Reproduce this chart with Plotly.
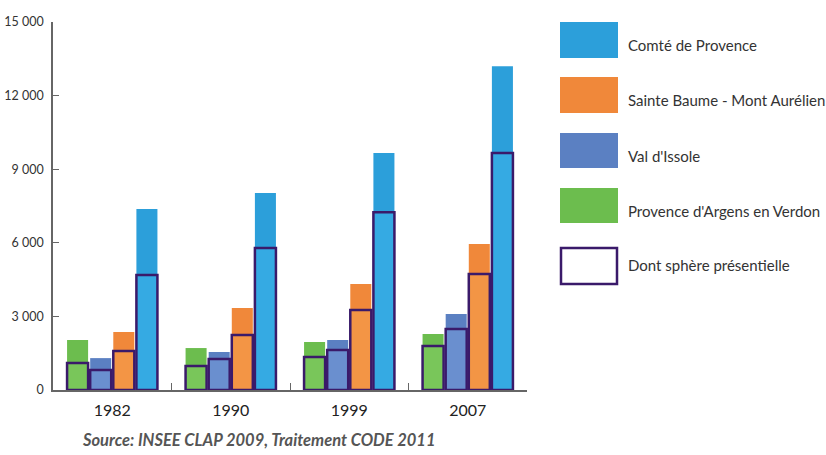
import plotly.graph_objects as go

years = ["1982", "1990", "1999", "2007"]
series_names = ["Provence d'Argens en Verdon", "Val d'Issole", "Sainte Baume - Mont Aurélien", "Comté de Provence"]
totals = {
    "Provence d'Argens en Verdon": [2040, 1710, 1960, 2280],
    "Val d'Issole": [1300, 1550, 2040, 3100],
    "Sainte Baume - Mont Aurélien": [2360, 3340, 4320, 5950],
    "Comté de Provence": [7380, 8030, 9660, 13200],
}
presentielle = {
    "Provence d'Argens en Verdon": [1100, 980, 1345, 1790],
    "Val d'Issole": [815, 1260, 1630, 2490],
    "Sainte Baume - Mont Aurélien": [1590, 2240, 3260, 4730],
    "Comté de Provence": [4690, 5790, 7250, 9660],
}
colors = {
    "Provence d'Argens en Verdon": "#6cbd4e",
    "Val d'Issole": "#5b80c2",
    "Sainte Baume - Mont Aurélien": "#f0883a",
    "Comté de Provence": "#2c9fda",
}
inner_colors = {
    "Provence d'Argens en Verdon": "#79c65a",
    "Val d'Issole": "#6a8fcf",
    "Sainte Baume - Mont Aurélien": "#f39545",
    "Comté de Provence": "#35aae3",
}
legend_order = ["Comté de Provence", "Sainte Baume - Mont Aurélien", "Val d'Issole", "Provence d'Argens en Verdon"]
presentielle_label = "Dont sphère présentielle"
source_text = "Source: INSEE CLAP 2009, Traitement CODE 2011"
y_ticks = [0, 3000, 6000, 9000, 12000, 15000]

outline = "#3a1a6a"
FONT = "Lato"

fig = go.Figure()
for name in series_names:
    fig.add_trace(go.Bar(x=years, y=totals[name], offsetgroup=name, name=name,
                         marker=dict(color=colors[name], line=dict(width=0)),
                         showlegend=False))
    fig.add_trace(go.Bar(x=years, y=presentielle[name], offsetgroup=name, name=presentielle_label,
                         marker=dict(color=inner_colors[name], line=dict(width=2.5, color=outline)),
                         showlegend=False))

# plot area pixels: x 53..527, y 22..390
L, R, T, B = 53, 527, 22, 390
W, H = 826, 455

def px(x):
    return (x - L) / (R - L)

def py(y):
    return (B - y) / (B - T)

shapes = []
annotations = []
rows = [(22, 58), (77, 113), (133, 168), (188, 223)]
for (y0, y1), name in zip(rows, legend_order):
    shapes.append(dict(type="rect", xref="paper", yref="paper",
                       x0=px(560), x1=px(618), y0=py(y1), y1=py(y0),
                       fillcolor=colors[name], line=dict(width=0)))
    annotations.append(dict(xref="paper", yref="paper", x=px(626), y=py((y0 + y1) / 2 + 5),
                            text=name, showarrow=False, xanchor="left", yanchor="middle",
                            font=dict(family=FONT, size=15, color="#333333")))
shapes.append(dict(type="rect", xref="paper", yref="paper",
                   x0=px(561), x1=px(617), y0=py(284), y1=py(248),
                   fillcolor="white", line=dict(width=2.5, color=outline)))
annotations.append(dict(xref="paper", yref="paper", x=px(626), y=py(265),
                        text=presentielle_label, showarrow=False, xanchor="left", yanchor="middle",
                        font=dict(family=FONT, size=15, color="#333333")))
annotations.append(dict(xref="paper", yref="paper", x=px(80), y=py(440),
                        text="<b><i>" + source_text + "</i></b>", showarrow=False,
                        xanchor="left", yanchor="middle",
                        font=dict(family=FONT, size=16.5, color="#555555")))

fig.update_layout(
    width=W, height=H,
    margin=dict(l=L, r=W - R, t=T, b=H - B, pad=0, autoexpand=False),
    barmode="group", bargap=0.22, bargroupgap=0.09,
    paper_bgcolor="white", plot_bgcolor="white",
    separators=", ",
    font=dict(family=FONT, color="#333333"),
    shapes=shapes, annotations=annotations,
    xaxis=dict(showline=True, linecolor="#666666", linewidth=1.5, automargin=False,
               ticks="inside", ticklen=7, tickcolor="#666666", tickson="boundaries",
               tickfont=dict(family=FONT, size=16, color="#222222"), ticklabelstandoff=5,
               showgrid=False, fixedrange=True),
    yaxis=dict(range=[0, 15000], tickvals=y_ticks, tickformat=",d", automargin=False,
               showline=True, linecolor="#666666", linewidth=1.5,
               ticks="inside", ticklen=6, tickcolor="#666666",
               tickfont=dict(family=FONT, size=12.5, color="#333333"), ticklabelstandoff=5,
               showgrid=False, zeroline=False, fixedrange=True),
)

fig.write_html("out.html")
